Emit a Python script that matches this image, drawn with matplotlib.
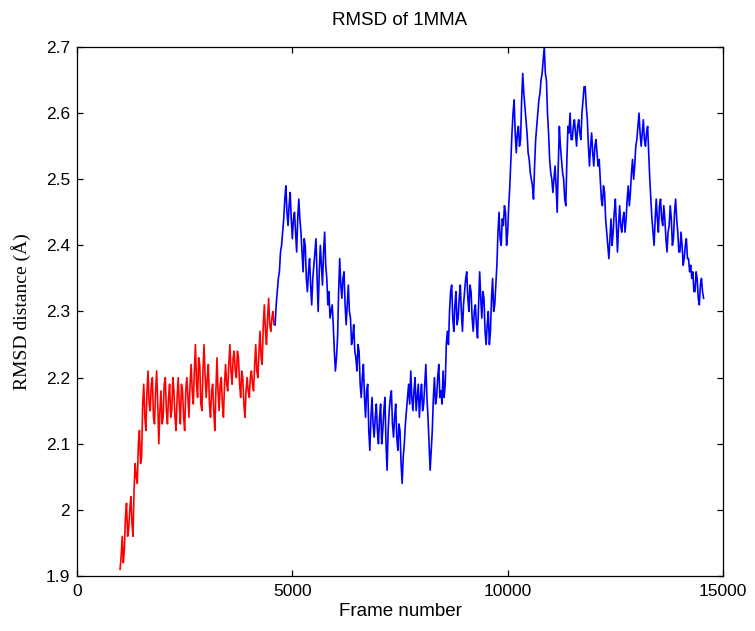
import numpy as np
import matplotlib
matplotlib.use("Agg")
import matplotlib.pyplot as plt

# Sampling of the trajectory (frames)
frame_step = 25
red_start = 1000
blue_start = 4600

# Equilibration part of the trajectory (red)
rmsd_equil = [
    1.91, 1.93, 1.96, 1.92, 1.94, 1.99, 2.01, 1.96, 1.97, 2.00,
    2.02, 1.98, 1.96, 2.03, 2.07, 2.05, 2.04, 2.10, 2.12, 2.07,
    2.08, 2.16, 2.19, 2.14, 2.12, 2.18, 2.21, 2.16, 2.15, 2.19,
    2.20, 2.14, 2.13, 2.18, 2.21, 2.16, 2.10, 2.15, 2.18, 2.13,
    2.14, 2.19, 2.20, 2.15, 2.13, 2.17, 2.19, 2.14, 2.15, 2.20,
    2.18, 2.14, 2.12, 2.17, 2.20, 2.16, 2.13, 2.19, 2.18, 2.14,
    2.12, 2.18, 2.20, 2.17, 2.14, 2.19, 2.22, 2.18, 2.16, 2.21,
    2.25, 2.19, 2.17, 2.23, 2.22, 2.16, 2.15, 2.21, 2.25, 2.20,
    2.17, 2.20, 2.22, 2.16, 2.14, 2.18, 2.19, 2.15, 2.12, 2.18,
    2.23, 2.18, 2.15, 2.19, 2.20, 2.16, 2.14, 2.19, 2.22, 2.19,
    2.18, 2.22, 2.25, 2.21, 2.19, 2.23, 2.24, 2.21, 2.20, 2.24,
    2.23, 2.19, 2.17, 2.21, 2.20, 2.16, 2.14, 2.18, 2.20, 2.18,
    2.17, 2.20, 2.21, 2.19, 2.18, 2.22, 2.25, 2.21, 2.20, 2.24,
    2.27, 2.23, 2.22, 2.28, 2.31, 2.27, 2.25, 2.29, 2.32, 2.28,
    2.27, 2.29, 2.30, 2.28, 2.28,
]

# Production part of the trajectory (blue)
rmsd_prod = [
    2.28, 2.31, 2.33, 2.35, 2.36, 2.39, 2.40, 2.42, 2.44, 2.47,
    2.49, 2.45, 2.43, 2.46, 2.48, 2.44, 2.41, 2.44, 2.45,
    2.42, 2.39, 2.44, 2.47, 2.44, 2.42, 2.39, 2.36, 2.41, 2.40,
    2.35, 2.33, 2.36, 2.38, 2.34, 2.31, 2.35, 2.37, 2.39, 2.41,
    2.35, 2.30, 2.36, 2.40, 2.37, 2.34, 2.39, 2.42, 2.37, 2.35,
    2.31, 2.33, 2.29, 2.30, 2.31, 2.28, 2.24, 2.21, 2.23, 2.26,
    2.33, 2.38, 2.34, 2.32, 2.35, 2.36, 2.31, 2.28, 2.31, 2.34,
    2.30, 2.29, 2.25, 2.26, 2.28, 2.24, 2.23, 2.21, 2.25, 2.24,
    2.19, 2.17, 2.20, 2.22, 2.17, 2.14, 2.18, 2.19, 2.12, 2.09,
    2.14, 2.17, 2.13, 2.11, 2.14, 2.16, 2.12, 2.10, 2.14, 2.16,
    2.10, 2.12, 2.15, 2.17, 2.10, 2.06, 2.12, 2.15, 2.17, 2.18,
    2.13, 2.11, 2.14, 2.16, 2.11, 2.09, 2.13, 2.12, 2.07, 2.04,
    2.08, 2.10, 2.13, 2.15, 2.17, 2.19, 2.16, 2.21, 2.17, 2.15,
    2.18, 2.20, 2.15, 2.17, 2.19, 2.14, 2.17, 2.19, 2.15, 2.16,
    2.19, 2.22, 2.17, 2.14, 2.10, 2.06, 2.09, 2.12, 2.17, 2.20,
    2.16, 2.17, 2.20, 2.22, 2.17, 2.18, 2.16, 2.21, 2.17, 2.19,
    2.25, 2.27, 2.25, 2.30, 2.33, 2.34, 2.29, 2.27, 2.31, 2.33,
    2.28, 2.29, 2.32, 2.34, 2.30, 2.27, 2.31, 2.33, 2.35, 2.36,
    2.32, 2.30, 2.34, 2.33, 2.29, 2.27, 2.30, 2.31, 2.28, 2.26,
    2.31, 2.36, 2.32, 2.29, 2.33, 2.32, 2.27, 2.25, 2.28, 2.30,
    2.25, 2.27, 2.32, 2.35, 2.30, 2.31, 2.34, 2.37, 2.42, 2.45,
    2.41, 2.40, 2.44, 2.43, 2.46, 2.45, 2.40, 2.42, 2.46, 2.49,
    2.53, 2.57, 2.60, 2.62, 2.57, 2.54, 2.57, 2.58, 2.55, 2.56,
    2.62, 2.66, 2.63, 2.61, 2.59, 2.57, 2.54, 2.53, 2.51, 2.50,
    2.49, 2.47, 2.52, 2.56, 2.58, 2.60, 2.62, 2.63, 2.65, 2.66,
    2.68, 2.70, 2.66, 2.65, 2.60, 2.57, 2.53, 2.51, 2.50, 2.48,
    2.50, 2.52, 2.49, 2.45, 2.52, 2.58, 2.55, 2.53, 2.51, 2.50,
    2.47, 2.46, 2.53, 2.58, 2.57, 2.60, 2.56, 2.56, 2.58, 2.59,
    2.57, 2.55, 2.58, 2.59, 2.57, 2.56, 2.60, 2.62, 2.64, 2.64,
    2.61, 2.59, 2.55, 2.52, 2.55, 2.57, 2.54, 2.52, 2.55, 2.56,
    2.54, 2.52, 2.53, 2.50, 2.47, 2.46, 2.49, 2.48, 2.44, 2.42,
    2.40, 2.38, 2.41, 2.44, 2.40, 2.42, 2.45, 2.47, 2.43, 2.39,
    2.43, 2.46, 2.43, 2.42, 2.44, 2.45, 2.42, 2.44, 2.47, 2.49,
    2.46, 2.48, 2.51, 2.53, 2.50, 2.52, 2.55, 2.56, 2.58, 2.60,
    2.57, 2.55, 2.57, 2.59, 2.56, 2.55, 2.57, 2.58, 2.54, 2.50,
    2.47, 2.44, 2.42, 2.40, 2.44, 2.47, 2.44, 2.42, 2.46, 2.47,
    2.44, 2.43, 2.46, 2.44, 2.41, 2.39, 2.42, 2.43, 2.46, 2.44,
    2.40, 2.41, 2.45, 2.47, 2.44, 2.42, 2.39, 2.39, 2.42, 2.40,
    2.37, 2.38, 2.40, 2.41, 2.38, 2.38, 2.36, 2.37, 2.35, 2.36,
    2.33, 2.33, 2.36, 2.35, 2.32, 2.31, 2.34, 2.35, 2.33, 2.32,
]

x_ticks = [0, 5000, 10000, 15000]
y_ticks = [1.9, 2.0, 2.1, 2.2, 2.3, 2.4, 2.5, 2.6, 2.7]
y_tick_labels = ["1.9", "2", "2.1", "2.2", "2.3", "2.4", "2.5", "2.6", "2.7"]

frames_equil = red_start + frame_step * np.arange(len(rmsd_equil))
frames_prod = blue_start + frame_step * np.arange(len(rmsd_prod))

sans = ["Liberation Sans", "DejaVu Sans"]
serif = ["Liberation Serif", "DejaVu Serif"]

fig = plt.figure(figsize=(7.55, 6.31), dpi=100)
ax = fig.add_axes([0.102, 0.0872, 0.8556, 0.8383])

ax.plot(frames_equil, rmsd_equil, color="#ff0000", lw=1.2)
ax.plot(frames_prod, rmsd_prod, color="#0000ff", lw=1.2)

ax.set_xlim(0, 15000)
ax.set_ylim(1.9, 2.7)
ax.set_xticks(x_ticks)
ax.set_xticklabels([str(t) for t in x_ticks], family=sans, fontsize=12.5)
ax.set_yticks(y_ticks)
ax.set_yticklabels(y_tick_labels, family=sans, fontsize=12.5)
ax.tick_params(direction="in", length=4.5, width=0.9, top=True, right=True,
               colors="black")
ax.tick_params(axis="x", pad=6)
ax.tick_params(axis="y", pad=5)
for s in ax.spines.values():
    s.set_linewidth(0.9)

ax.set_xlabel("Frame number", family=sans, fontsize=13.5)
ax.xaxis.set_label_coords(0.5, -0.051)
ax.set_ylabel("RMSD distance (Å)", family=serif, fontsize=14)
ax.yaxis.set_label_coords(-0.071, 0.5)
ax.text(0.5, 1.051, "RMSD of 1MMA", transform=ax.transAxes, ha="center",
        va="center", family=sans, fontsize=13.5)

fig.savefig("out.png", dpi=100)
